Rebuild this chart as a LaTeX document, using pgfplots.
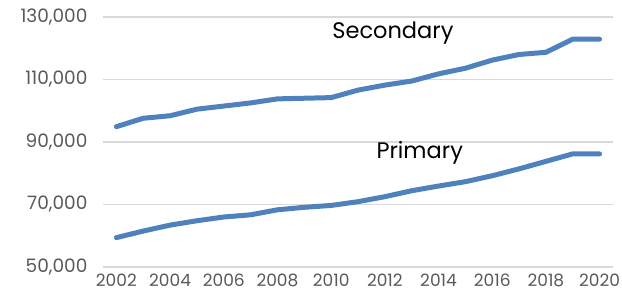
\documentclass[border=0pt]{standalone}
\usepackage{fontspec}
\setmainfont{Poppins}
\usepackage{pgfplots}
\pgfplotsset{compat=1.18}
\definecolor{lineblue}{RGB}{79,129,189}
\definecolor{ticktext}{RGB}{89,89,89}
\definecolor{gridgray}{RGB}{217,217,217}
\begin{document}
\begin{tikzpicture}
\begin{axis}[
  at={(0,0)}, anchor=south west,
  scale only axis, width=510pt, height=250pt,
  xmin=2001.5, xmax=2020.5, ymin=50000, ymax=130000,
  axis line style={draw=none},
  scaled y ticks=false, scaled x ticks=false,
  ytick={50000,70000,90000,110000,130000},
  yticklabels={{50,000},{70,000},{90,000},{110,000},{130,000}},
  xtick={2002,2004,...,2020},
  xticklabels={2002,2004,2006,2008,2010,2012,2014,2016,2018,2020},
  /pgf/number format/assume math mode=true,
  tick style={draw=none},
  ymajorgrids, grid style={gridgray, line width=1.2pt},
  xticklabel style={font=\fontsize{17}{20}\selectfont, text=ticktext, yshift=-3pt},
  yticklabel style={font=\fontsize{18.5}{22}\selectfont, text=ticktext, xshift=-12pt},
  clip=false,
]
\addplot[lineblue, line width=5pt, line join=round, line cap=round] coordinates {
(2002,94900)(2003,97600)(2004,98400)(2005,100500)(2006,101500)(2007,102500)(2008,103800)(2009,104000)(2010,104200)(2011,106600)(2012,108200)(2013,109500)(2014,111800)(2015,113600)(2016,116200)(2017,118000)(2018,118700)(2019,122900)(2020,122900)
};
\addplot[lineblue, line width=5pt, line join=round, line cap=round] coordinates {
(2002,59400)(2003,61500)(2004,63400)(2005,64800)(2006,66000)(2007,66700)(2008,68300)(2009,69100)(2010,69700)(2011,70900)(2012,72500)(2013,74400)(2014,75900)(2015,77300)(2016,79200)(2017,81400)(2018,83800)(2019,86200)(2020,86200)
};
\node[font=\fontsize{22.5}{26}\selectfont] at (axis cs:2012.3,124900) {Secondary};
\node[font=\fontsize{22.5}{26}\selectfont] at (axis cs:2013.3,86500) {Primary};
\end{axis}
\pgfresetboundingbox
\path[use as bounding box] (-103pt,-32pt) rectangle (519pt,267pt);
\end{tikzpicture}
\end{document}
